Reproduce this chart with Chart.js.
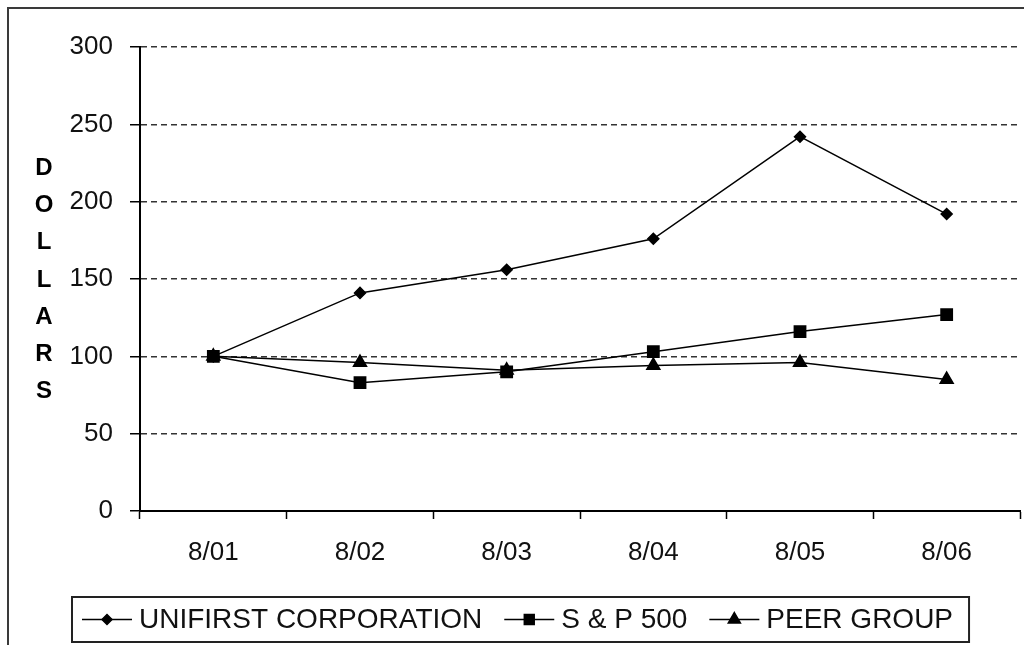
<!DOCTYPE html>
<html>
<head>
<meta charset="utf-8">
<script src="https://cdn.jsdelivr.net/npm/chart.js@4/dist/chart.umd.min.js"></script>
<style>
  html, body { margin: 0; padding: 0; background: #fff; overflow: hidden; }
  #wrap { position: relative; width: 1024px; height: 645px; }
  #frame { position: absolute; left: 7px; top: 7px; width: 1100px; height: 700px; border-left: 2px solid #3a3a3a; border-top: 2px solid #3a3a3a; }
  canvas { position: absolute; left: 0; top: 0; }
</style>
</head>
<body>
<div id="wrap">
  <div id="frame"></div>
  <canvas id="perfChart" width="1024" height="645"></canvas>
</div>
<script>
const periods = ['8/01', '8/02', '8/03', '8/04', '8/05', '8/06']
const unifirst = [100, 141, 156, 176, 242, 192]
const sp500 = [100, 83, 90, 103, 116, 127]
const peerGroup = [100, 96, 91, 94, 96, 85]
const yTicks = [0, 50, 100, 150, 200, 250, 300]
const axisLetters = ['D', 'O', 'L', 'L', 'A', 'R', 'S']

const FONT = '"Liberation Sans", Arial, sans-serif'

// vertical "DOLLARS" title, one letter per row
const stackedTitle = {
  id: 'stackedTitle',
  afterDraw(chart) {
    const { ctx } = chart
    ctx.save()
    ctx.font = 'bold 24px ' + FONT
    ctx.fillStyle = '#000'
    ctx.textAlign = 'center'
    ctx.textBaseline = 'middle'
    axisLetters.forEach((ch, i) => ctx.fillText(ch, 44, 168 + i * 37.3))
    ctx.restore()
  }
}

// boxed legend with line + marker samples
const boxLegend = {
  id: 'boxLegend',
  afterDraw(chart) {
    const { ctx } = chart
    const sets = chart.data.datasets
    const lineLen = 50, gapText = 7, gapItem = 22, padL = 10, padR = 16
    ctx.save()
    ctx.font = '28px ' + FONT
    const widths = sets.map(ds => ctx.measureText(ds.label).width)
    const total = padL + padR + widths.reduce((a, w) => a + lineLen + gapText + w, 0) + gapItem * (sets.length - 1)
    const left = Math.round(chart.width / 2 + 9 - total / 2)
    const top = 597, h = 45, cy = top + h / 2

    ctx.strokeStyle = '#222'
    ctx.lineWidth = 2
    ctx.strokeRect(left, top, total, h)

    let x = left + padL
    sets.forEach((ds, i) => {
      ctx.strokeStyle = '#000'
      ctx.lineWidth = 1.5
      ctx.beginPath()
      ctx.moveTo(x, cy)
      ctx.lineTo(x + lineLen, cy)
      ctx.stroke()
      ctx.fillStyle = '#000'
      Chart.helpers.drawPoint(ctx, {
        pointStyle: ds.pointStyle,
        radius: ds.legendRadius,
        rotation: 0,
        borderWidth: 1
      }, x + lineLen / 2, cy)
      ctx.fillStyle = '#111'
      ctx.textAlign = 'left'
      ctx.textBaseline = 'middle'
      ctx.fillText(ds.label, x + lineLen + gapText, cy + 1)
      x += lineLen + gapText + widths[i] + gapItem
    })
    ctx.restore()
  }
}

const lineStyle = {
  borderColor: '#000',
  backgroundColor: '#000',
  pointBorderColor: '#000',
  pointBackgroundColor: '#000',
  borderWidth: 1.5,
  tension: 0,
  fill: false
}

new Chart(document.getElementById('perfChart'), {
  type: 'line',
  data: {
    labels: periods,
    datasets: [
      { ...lineStyle, label: 'UNIFIRST CORPORATION', data: unifirst, pointStyle: 'rectRot', pointRadius: 5.5, legendRadius: 5 },
      { ...lineStyle, label: 'S & P 500', data: sp500, pointStyle: 'rect', pointRadius: 8, legendRadius: 7 },
      { ...lineStyle, label: 'PEER GROUP', data: peerGroup, pointStyle: 'triangle', pointRadius: 7.5, legendRadius: 7 }
    ]
  },
  options: {
    responsive: false,
    animation: false,
    devicePixelRatio: 1,
    layout: { autoPadding: false, padding: { top: 47, right: 4, left: 0, bottom: 0 } },
    plugins: {
      legend: { display: false },
      tooltip: { enabled: false }
    },
    scales: {
      x: {
        offset: true,
        afterFit: axis => { axis.height = 134 },
        grid: {
          offset: true,
          drawOnChartArea: false,
          tickLength: 8,
          tickColor: '#000',
          tickWidth: 1.5
        },
        border: { color: '#000', width: 2 },
        ticks: {
          color: '#111',
          padding: 18,
          maxRotation: 0,
          font: { family: FONT, size: 26 }
        }
      },
      y: {
        min: 0,
        max: 300,
        afterFit: axis => { axis.width = 140 },
        afterBuildTicks: axis => { axis.ticks = yTicks.map(v => ({ value: v })) },
        grid: {
          color: '#333',
          lineWidth: 1.5,
          tickLength: 10,
          tickColor: '#000',
          tickWidth: 1.5
        },
        border: { color: '#000', width: 2, dash: [6, 4] },
        ticks: {
          color: '#111',
          padding: 17,
          font: { family: FONT, size: 26 }
        }
      }
    }
  },
  plugins: [stackedTitle, boxLegend]
})
</script>
</body>
</html>
